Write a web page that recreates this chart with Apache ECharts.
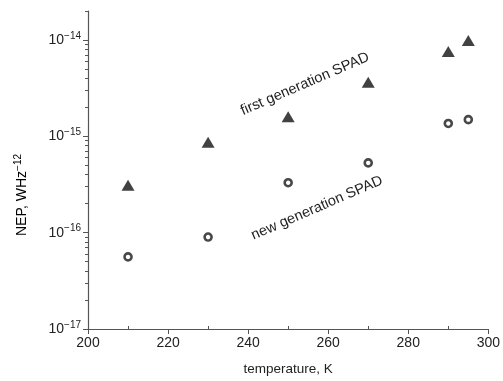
<!DOCTYPE html>
<html>
<head>
<meta charset="utf-8">
<script src="https://cdn.jsdelivr.net/npm/echarts@6/dist/echarts.min.js"></script>
<style>
  html, body { margin: 0; padding: 0; background: #fff; }
  #chart { width: 503px; height: 381px; }
</style>
</head>
<body>
<div id="chart"></div>
<script>
// temperatures, K
const temps = [210, 230, 250, 270, 290, 295];
// NEP values
const firstGen = [3.1e-16, 8.7e-16, 1.6e-15, 3.65e-15, 7.6e-15, 9.9e-15];
const newGen = [5.6e-17, 9.0e-17, 3.3e-16, 5.3e-16, 1.36e-15, 1.49e-15];

const xMajor = [200, 220, 240, 260, 280, 300];
const xMinor = [210, 230, 250, 270, 290];
const yDecades = [1e-17, 1e-16, 1e-15, 1e-14];

// minor ticks 2..9 per decade, plus the axis end at 2e-14
const yMinor = [];
[-17, -16, -15].forEach(function (e) {
    for (let m = 2; m <= 9; m++) yMinor.push(m * Math.pow(10, e));
});
yMinor.push(2e-14);

const FONT = 'Liberation Sans, Arial, sans-serif';
const TXT = '#222';
const AX = '#555';

const chart = echarts.init(document.getElementById('chart'));

const supRich = {
    b: { fontFamily: FONT, fontSize: 14, color: TXT },
    sup: { fontFamily: FONT, fontSize: 10, color: TXT, verticalAlign: 'bottom', padding: [0, 0, 8, 0] }
};

const option = {
    animation: false,
    grid: { left: 88, right: 14, top: 11, bottom: 49 },
    xAxis: [{
        type: 'value',
        min: 200,
        max: 300,
        interval: 20,
        name: 'temperature, K',
        nameLocation: 'middle',
        nameGap: 33,
        nameTextStyle: { fontFamily: FONT, fontSize: 13.5, color: TXT },
        axisLine: { lineStyle: { color: AX, width: 1.2 } },
        axisTick: { length: 5, lineStyle: { color: AX } },
        axisLabel: { fontFamily: FONT, fontSize: 14, color: TXT, margin: 7 },
        splitLine: { show: false }
    }, {
        type: 'value',
        min: 200,
        max: 300,
        position: 'bottom',
        axisLine: { show: false },
        axisTick: { show: true, inside: true, length: 3, customValues: xMinor, lineStyle: { color: AX } },
        axisLabel: { show: false },
        splitLine: { show: false }
    }],
    yAxis: [{
        type: 'log',
        logBase: 10,
        min: 1e-17,
        max: 2e-14,
        axisLine: { show: true, lineStyle: { color: AX, width: 1.2 } },
        axisTick: { show: true, length: 5, customValues: yDecades, lineStyle: { color: AX } },
        axisLabel: {
            customValues: yDecades,
            margin: 7,
            formatter: function (v) {
                const e = Math.round(Math.log10(v));
                return '{b|10}{sup|\u2212' + Math.abs(e) + '}';
            },
            rich: supRich
        },
        splitLine: { show: false }
    }, {
        type: 'log',
        logBase: 10,
        min: 1e-17,
        max: 2e-14,
        position: 'left',
        axisLine: { show: false },
        axisTick: { show: true, length: 3, customValues: yMinor, lineStyle: { color: AX } },
        axisLabel: { show: false },
        splitLine: { show: false }
    }],
    graphic: [{
        type: 'text',
        x: 22,
        y: 195,
        rotation: Math.PI / 2,
        style: {
            text: '{b|NEP, WHz}{sup|\u221212}',
            align: 'center',
            verticalAlign: 'middle',
            rich: supRich
        }
    }, {
        type: 'text',
        x: 305,
        y: 84,
        rotation: 23.4 * Math.PI / 180,
        style: {
            text: 'first generation SPAD',
            fontFamily: FONT,
            fontSize: 14.5,
            fill: TXT,
            align: 'center',
            verticalAlign: 'middle'
        }
    }, {
        type: 'text',
        x: 317,
        y: 208,
        rotation: 23.4 * Math.PI / 180,
        style: {
            text: 'new generation SPAD',
            fontFamily: FONT,
            fontSize: 14.5,
            fill: TXT,
            align: 'center',
            verticalAlign: 'middle'
        }
    }],
    series: [{
        name: 'first generation SPAD',
        type: 'scatter',
        symbol: 'triangle',
        symbolSize: [13, 11],
        itemStyle: { color: '#111' },
        data: temps.map(function (t, i) { return [t, firstGen[i]]; })
    }, {
        name: 'new generation SPAD',
        type: 'scatter',
        symbol: 'circle',
        symbolSize: 7,
        itemStyle: { color: '#fff', borderColor: '#1a1a1a', borderWidth: 2.6 },
        data: temps.map(function (t, i) { return [t, newGen[i]]; })
    }]
};

chart.setOption(option);
</script>
</body>
</html>
